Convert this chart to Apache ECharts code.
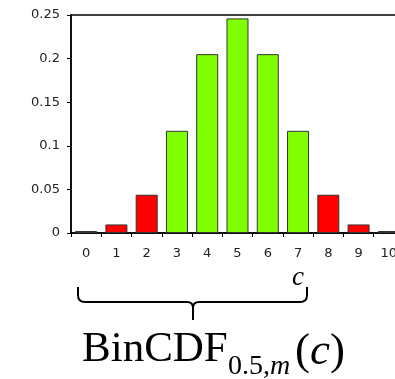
<!DOCTYPE html>
<html>
<head>
<meta charset="utf-8">
<script src="https://cdn.jsdelivr.net/npm/echarts@6/dist/echarts.min.js"></script>
<style>
  html, body { margin: 0; padding: 0; background: #fff; }
  #chart { width: 395px; height: 379px; }
</style>
</head>
<body>
<div id="chart"></div>
<script>
// binomial pmf, m = 10, p = 0.5
const categories = ['0', '1', '2', '3', '4', '5', '6', '7', '8', '9', '10']
const probs = [0.001, 0.0098, 0.0439, 0.1172, 0.2051, 0.2461, 0.2051, 0.1172, 0.0439, 0.0098, 0.001]
const yTicks = [0, 0.05, 0.1, 0.15, 0.2, 0.25]
// bars inside [from, to] are green, the tails red
const inside = { from: 3, to: 7 }

const GREEN = '#80ff00'
const RED = '#ff0000'
const SERIF = '"Liberation Serif", "DejaVu Serif", serif'

const chart = echarts.init(document.getElementById('chart'))

// curly brace under the axis, built from curves and straight bits
const braceStroke = { stroke: '#000', lineWidth: 2, fill: null }
function curve(x1, y1, cx, cy, x2, y2) {
  return { type: 'bezierCurve', shape: { x1, y1, cpx1: cx, cpy1: cy, x2, y2 }, style: braceStroke }
}
function seg(x1, y1, x2, y2) {
  return { type: 'line', shape: { x1, y1, x2, y2 }, style: braceStroke }
}
const brace = [
  seg(78, 287, 78, 295),
  curve(78, 295, 78, 302, 85, 302),
  seg(85, 302, 187, 302),
  curve(187, 302, 193, 302, 193, 308),
  curve(199, 302, 193, 302, 193, 308),
  seg(193, 308, 193, 320),
  seg(199, 302, 300, 302),
  curve(300, 302, 307, 302, 307, 295),
  seg(307, 295, 307, 287)
]

chart.setOption({
  animation: false,
  grid: {
    left: 71, top: 15, width: 333, height: 218,
    outerBoundsMode: 'none',
    show: true, borderColor: '#000', borderWidth: 1.5, backgroundColor: 'transparent'
  },
  xAxis: {
    type: 'category',
    data: categories,
    boundaryGap: true,
    axisLine: { lineStyle: { color: '#000', width: 1.5 } },
    axisTick: { show: true, length: 4, inside: false, alignWithLabel: false, lineStyle: { color: '#000' } },
    axisLabel: { color: '#222', fontSize: 13, fontFamily: 'DejaVu Sans', margin: 14, interval: 0 }
  },
  yAxis: {
    type: 'value',
    min: yTicks[0],
    max: yTicks[yTicks.length - 1],
    interval: yTicks[1] - yTicks[0],
    axisLine: { show: true, lineStyle: { color: '#000', width: 1.5 } },
    axisTick: { show: true, length: 4, lineStyle: { color: '#000' } },
    splitLine: { show: false },
    axisLabel: { color: '#222', fontSize: 13, fontFamily: 'DejaVu Sans', margin: 11 }
  },
  series: [{
    type: 'bar',
    data: probs,
    barWidth: 22,
    barMinHeight: 2,
    itemStyle: {
      color: (p) => (p.dataIndex >= inside.from && p.dataIndex <= inside.to ? GREEN : RED),
      borderColor: '#333',
      borderWidth: 1
    }
  }],
  graphic: brace.concat([
    {
      type: 'text', x: 292, y: 291,
      style: { text: 'c', font: 'italic 27px ' + SERIF, fill: '#000', verticalAlign: 'bottom' }
    },
    {
      type: 'text', x: 82, y: 371,
      style: { text: 'BinCDF', font: '43px ' + SERIF, fill: '#000', verticalAlign: 'bottom' }
    },
    {
      type: 'text', x: 228, y: 381,
      style: {
        text: '{n|0.5,}{m|m}',
        fill: '#000',
        verticalAlign: 'bottom',
        rich: {
          n: { font: '28px ' + SERIF },
          m: { font: 'italic 28px ' + SERIF }
        }
      }
    },
    {
      type: 'text', x: 295, y: 375,
      style: {
        text: '{p|(}{c|c}{p|)}',
        fill: '#000',
        verticalAlign: 'bottom',
        rich: {
          p: { font: '45px ' + SERIF },
          c: { font: 'italic 45px ' + SERIF }
        }
      }
    }
  ])
})
</script>
</body>
</html>
